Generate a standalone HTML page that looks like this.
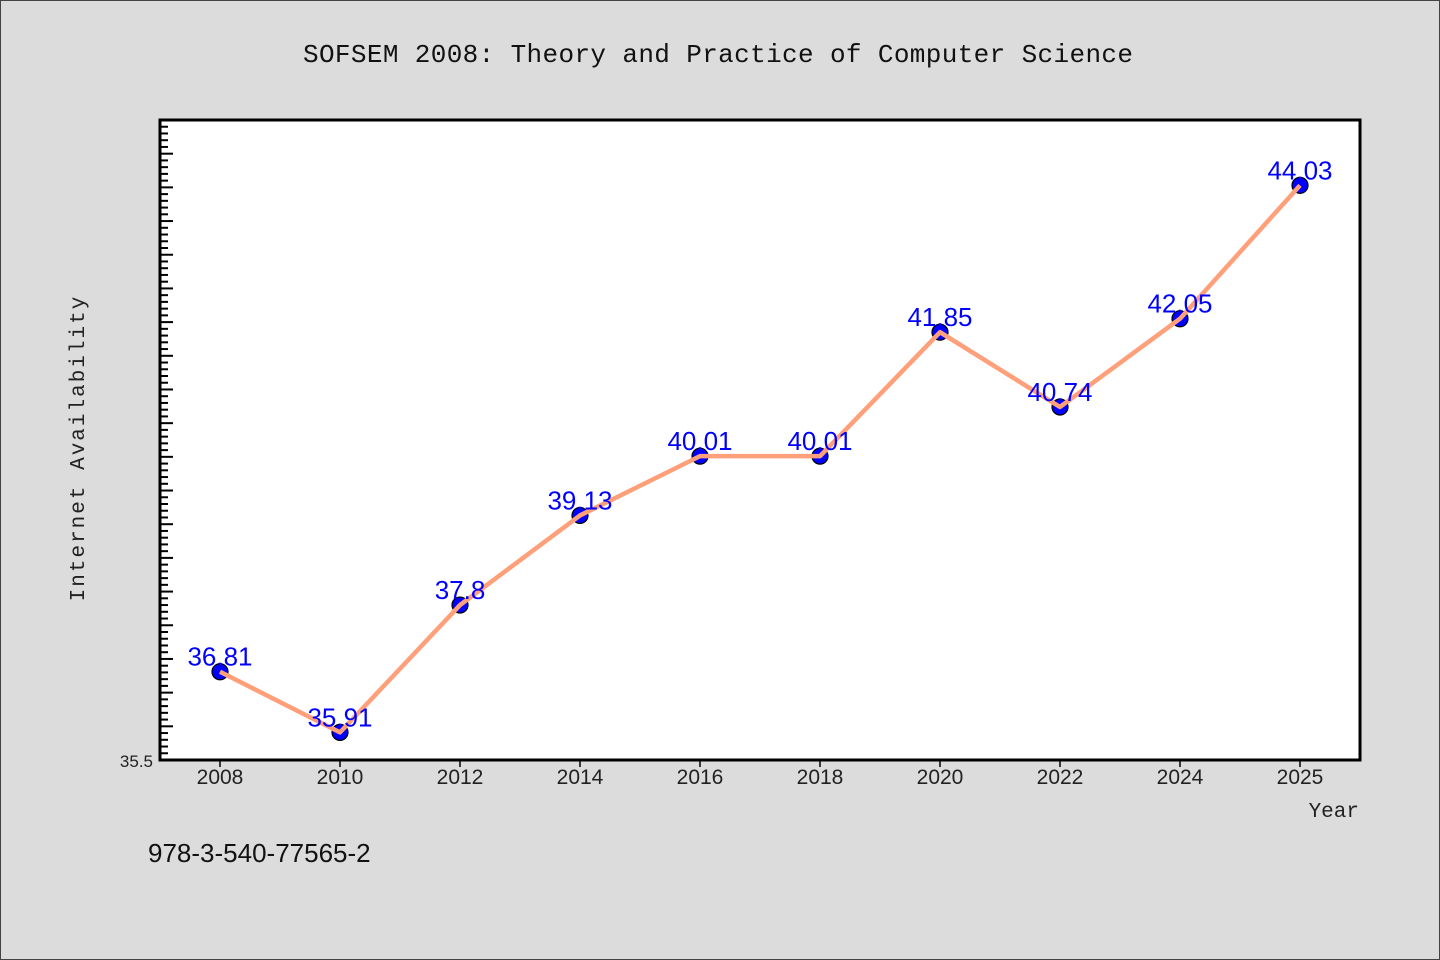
<!DOCTYPE html>
<html><head><meta charset="utf-8"><style>
html,body{margin:0;padding:0;background:#dcdcdc;}
svg{display:block;}
</style></head><body>
<svg id="chart" width="1440" height="960" viewBox="0 0 1440 960" xmlns="http://www.w3.org/2000/svg">
<rect x="0.5" y="0.5" width="1439" height="959" fill="#dcdcdc" stroke="#444" stroke-width="1"/>
<text x="718" y="62" text-anchor="middle" font-family="'Liberation Mono','Noto Sans CJK JP',monospace" font-size="26" textLength="830" fill="#111">SOFSEM 2008: Theory and Practice of Computer Science</text>
<rect x="160" y="120" width="1200" height="640" fill="#fff"/>
<g id="yticks"></g>
<g id="xticks"></g>
<g id="series"></g>
<rect x="160" y="120" width="1200" height="640" fill="none" stroke="#000" stroke-width="3"/>
<text transform="translate(84,448) rotate(-90)" text-anchor="middle" font-family="'Liberation Mono','Noto Sans CJK JP',monospace" font-size="21" letter-spacing="2" fill="#222">Internet Availability</text>
<text x="1359" y="817" text-anchor="end" font-family="'Liberation Mono','Noto Sans CJK JP',monospace" font-size="21" fill="#222">Year</text>
<text x="148" y="862" font-family="'Liberation Sans','Noto Sans CJK JP',sans-serif" font-size="26" fill="#111">978-3-540-77565-2</text>
</svg>
<script>
const categories = ["2008","2010","2012","2014","2016","2018","2020","2022","2024","2025"];
const values = [36.81,35.91,37.8,39.13,40.01,40.01,41.85,40.74,42.05,44.03];
const labels = ["36.81","35.91","37.8","39.13","40.01","40.01","41.85","40.74","42.05","44.03"];
const yMin = 35.5, yMax = 45;
const NS="http://www.w3.org/2000/svg";
const L=160,R=1360,T=120,B=760;
function yScale(v){return B-(v-yMin)/(yMax-yMin)*(B-T);}
function xScale(i){const bw=(R-L)/categories.length;return L+bw*(i+0.5);}
function mk(tag,attrs,parent){const e=document.createElementNS(NS,tag);for(const k in attrs)e.setAttribute(k,attrs[k]);parent.appendChild(e);return e;}
const yt=document.getElementById('yticks');
for(let k=0;k<=95;k++){
  const v=yMin+k*0.1;const y=yScale(v);const major=(k%5===0);
  const t=mk('line',{x1:L,x2:L+(major?13:8),y1:y,y2:y,stroke:'#000','stroke-width':2},yt);
  
  
}
const yl=mk('text',{x:153,y:B+7,'text-anchor':'end','font-family':"'Liberation Sans',sans-serif",'font-size':17,fill:'#222'},yt);
yl.textContent=yMin.toFixed(1);


const xt=document.getElementById('xticks');
categories.forEach((c,i)=>{
  const x=xScale(i);
  const t=mk('line',{x1:x,x2:x,y1:B,y2:B+7,stroke:'#000','stroke-width':1.5},xt);
  
  
  const tx=mk('text',{x:x,y:B+24,'text-anchor':'middle','font-family':"'Liberation Sans',sans-serif",'font-size':21,fill:'#222'},xt);
  tx.textContent=c;
  
  
});
const s=document.getElementById('series');
values.forEach((v,i)=>{
  const c=mk('circle',{cx:xScale(i),cy:yScale(v),r:8,fill:'#0000ff',stroke:'#000','stroke-width':1.2},s);
  
  
});
const pts=values.map((v,i)=>xScale(i)+','+yScale(v)).join(' ');
const pl=mk('polyline',{points:pts,fill:'none',stroke:'#ffa07a','stroke-width':4.5,'stroke-linejoin':'round'},s);


values.forEach((v,i)=>{
  const t=mk('text',{x:xScale(i),y:yScale(v)-6,'text-anchor':'middle','font-family':"'Liberation Sans',sans-serif",'font-size':26,fill:'#0000ff'},s);
  t.textContent=labels[i];
  
  
});
</script>
</body></html>
